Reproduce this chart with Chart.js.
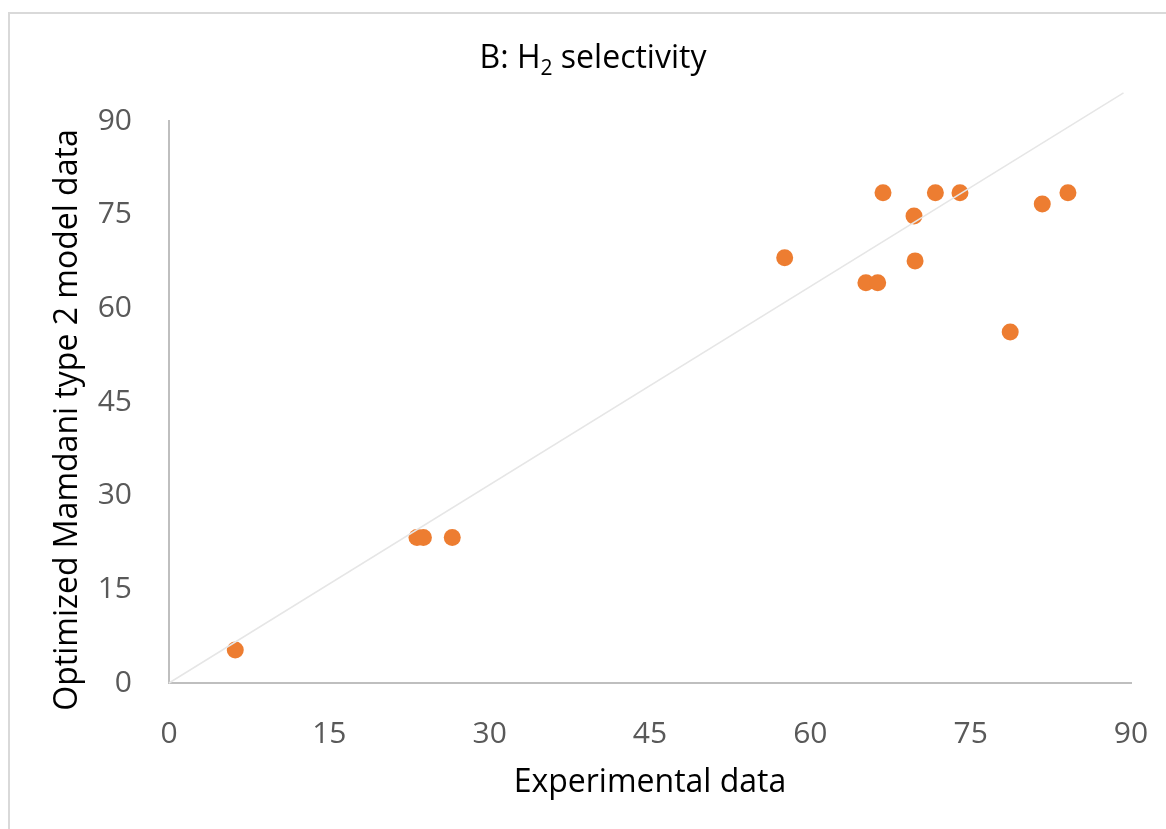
<!DOCTYPE html>
<html>
<head>
<meta charset="utf-8">
<script src="https://cdn.jsdelivr.net/npm/chart.js@4"></script>
<style>
  html, body { margin: 0; padding: 0; background: #fff; }
  #wrap { position: relative; width: 1166px; height: 829px; overflow: hidden; }
  #frame { position: absolute; left: 8px; top: 12px; width: 1200px; height: 900px;
           border-left: 2px solid #D9D9D9; border-top: 2px solid #D9D9D9; }
  canvas { position: absolute; left: 0; top: 0; }
</style>
</head>
<body>
<div id="wrap">
  <div id="frame"></div>
  <canvas id="chart" width="1166" height="829"></canvas>
</div>
<script>
// experimental vs model values
const experimental = [6.2, 23.2, 23.8, 26.5, 57.6, 65.2, 66.3, 66.8, 69.7, 69.8, 71.7, 74.0, 78.7, 81.7, 84.1];
const modelData    = [5.3, 23.3, 23.3, 23.3, 68.1, 64.1, 64.1, 78.5, 74.8, 67.6, 78.5, 78.5, 56.2, 76.7, 78.5];

// thin reference line, runs past the top of the plot
const refLineX = [0, 89.3];
const refLineY = [0, 94.5];

const axisTicks = [0, 15, 30, 45, 60, 75, 90];

const points = experimental.map((x, i) => ({ x: x, y: modelData[i] }));
const refLine = refLineX.map((x, i) => ({ x: x, y: refLineY[i] }));

const FONT = "'Open Sans', 'DejaVu Sans', sans-serif";

// chart title (with a real subscript) and the long y title, drawn by hand
// so canvas doesn't squeeze them
const textPlugin = {
    id: "texts",
    afterDraw(chart) {
        const c = chart.ctx;
        c.save();
        c.fillStyle = "#000";
        c.textBaseline = "alphabetic";
        c.textAlign = "left";

        const big = "32px " + FONT, small = "21px " + FONT;
        const parts = [["B: H", big, 0], ["2", small, 7], [" selectivity", big, 0]];
        let total = 0;
        parts.forEach(p => { c.font = p[1]; total += c.measureText(p[0]).width; });
        let x = 593 - total / 2;
        parts.forEach(p => {
            c.font = p[1];
            c.fillText(p[0], x, 68 + p[2]);
            x += c.measureText(p[0]).width;
        });

        c.font = big;
        c.textAlign = "center";
        c.translate(77, 420);
        c.rotate(-Math.PI / 2);
        c.fillText("Optimized Mamdani type 2 model data", 0, 0);
        c.restore();
    }
};

const ctx = document.getElementById("chart").getContext("2d");
new Chart(ctx, {
    type: "scatter",
    data: {
        datasets: [
            {
                type: "line",
                data: refLine,
                borderColor: "#E6E6E6",
                borderWidth: 1.5,
                pointRadius: 0,
                fill: false,
                clip: false
            },
            {
                data: points,
                backgroundColor: "#ED7D31",
                borderWidth: 0,
                pointRadius: 8.5,
                pointHoverRadius: 8.5
            }
        ]
    },
    plugins: [textPlugin],
    options: {
        responsive: false,
        animation: false,
        layout: { padding: { left: 0, right: 35, top: 121, bottom: 0 } },
        plugins: {
            legend: { display: false },
            tooltip: { enabled: false },
            title: { display: false }
        },
        scales: {
            x: {
                type: "linear",
                min: 0,
                max: 90,
                afterBuildTicks: s => { s.ticks = axisTicks.map(v => ({ value: v })); },
                afterFit: s => { s.height = 146; s.paddingLeft = 0; s.paddingRight = 0; },
                grid: { display: false, drawTicks: false },
                border: { display: true, color: "#BFBFBF", width: 2 },
                ticks: {
                    color: "#595959",
                    padding: 33,
                    maxRotation: 0,
                    font: { family: FONT, size: 30 }
                },
                title: {
                    display: true,
                    text: "Experimental data",
                    color: "#000",
                    font: { family: FONT, size: 32, lineHeight: 1.2 },
                    padding: { top: 0, bottom: 27 }
                }
            },
            y: {
                type: "linear",
                min: 0,
                max: 90,
                afterBuildTicks: s => { s.ticks = axisTicks.map(v => ({ value: v })); },
                afterFit: s => { s.width = 169; s.paddingTop = 0; s.paddingBottom = 0; },
                grid: { display: false, drawTicks: false },
                border: { display: true, color: "#BFBFBF", width: 2 },
                ticks: {
                    color: "#595959",
                    padding: 37,
                    font: { family: FONT, size: 30 }
                }
            }
        }
    }
});
</script>
</body>
</html>
